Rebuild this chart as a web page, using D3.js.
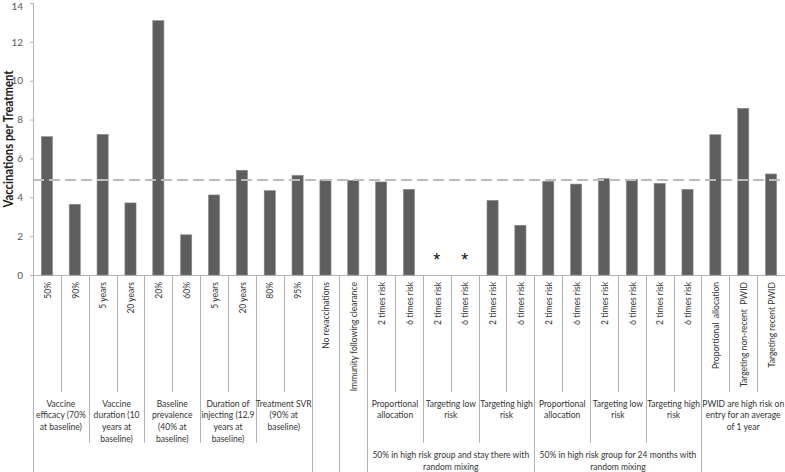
<!DOCTYPE html>
<html>
<head>
<meta charset="utf-8">
<script src="https://cdn.jsdelivr.net/npm/d3@7"></script>
<style>
  html, body { margin: 0; padding: 0; background: #fff; }
  svg { display: block; }
  text { font-family: Lato, "Open Sans", "Liberation Sans", Arial, sans-serif; }
</style>
</head>
<body>
<svg id="chart" width="785" height="472"></svg>
<script>
// ---------- data ----------
const categories = [
  "50%", "90%", "5 years", "20 years", "20%", "60%", "5 years", "20 years", "80%", "95%",
  "No revaccinations", "Immunity following clearance",
  "2 times risk", "6 times risk", "2 times risk", "6 times risk", "2 times risk", "6 times risk",
  "2 times risk", "6 times risk", "2 times risk", "6 times risk", "2 times risk", "6 times risk",
  "Proportional  allocation", "Targeting non-recent  PWID", "Targeting recent PWID"
];
const values = [
  7.12, 3.64, 7.24, 3.71, 13.09, 2.07, 4.12, 5.39, 4.34, 5.13,
  4.89, 4.87,
  4.79, 4.41, null, null, 3.84, 2.56,
  4.82, 4.68, 4.96, 4.91, 4.72, 4.41,
  7.22, 8.58, 5.20
];
// level-2 groups: index ranges and wrapped label lines
const groupStarts = [0, 2, 4, 6, 8, 10, 11, 12, 14, 16, 18, 20, 22, 24];
const groupEnds   = [1, 3, 5, 7, 9, 10, 11, 13, 15, 17, 19, 21, 23, 26];
const groupLabels = [
  ["Vaccine", "efficacy (70%", "at baseline)"],
  ["Vaccine", "duration (10", "years at", "baseline)"],
  ["Baseline", "prevalence", "(40% at", "baseline)"],
  ["Duration of", "injecting (12.9", "years at", "baseline)"],
  ["Treatment SVR", "(90% at", "baseline)"],
  [], [],
  ["Proportional", "allocation"],
  ["Targeting low", "risk"],
  ["Targeting high", "risk"],
  ["Proportional", "allocation"],
  ["Targeting low", "risk"],
  ["Targeting high", "risk"],
  ["PWID are high risk on", "entry for an average", "of 1 year"]
];
// level-3 groups
const superStarts = [0, 10, 11, 12, 18, 24];
const superEnds   = [9, 10, 11, 17, 23, 26];
const superLabels = [
  [], [], [],
  ["50% in high risk group and stay there with", "random mixing"],
  ["50% in high risk group for 24 months with", "random mixing"],
  []
];
const yTicks = [0, 2, 4, 6, 8, 10, 12, 14];
const baselineValue = 4.89;
const starValue = 0.9;
const yTitle = "Vaccinations per Treatment";

// ---------- layout ----------
const W = 785, H = 472;
const mLeft = 33, mRight = 785, mTop = 3, axisY = 275;
const lvl1Bottom = 392, lvl2Bottom = 443;
const fontSize = 9.8;

const svg = d3.select("#chart");

// horizontal squeeze so the font matches the narrow original face
const probe = svg.append("text").style("font-size", fontSize + "px")
  .text("50% in high risk group and stay there with");
const sq = 157 / probe.node().getComputedTextLength();
probe.remove();

const x = d3.scaleBand().domain(d3.range(categories.length)).range([mLeft, mRight]).padding(0);
const y = d3.scaleLinear().domain([0, 14]).range([axisY, mTop]);

const axisColor = "#b3b3b3";

// y axis
const yAxis = d3.axisLeft(y).tickValues(yTicks).tickSize(3).tickPadding(7).tickFormat(d3.format("d"));
const gy = svg.append("g").attr("transform", `translate(${mLeft},0)`).call(yAxis);
gy.select(".domain").remove();
gy.selectAll(".tick line").attr("stroke", axisColor);
gy.selectAll(".tick text").attr("fill", "#595959").style("font-size", "10px")
  .style("font-family", "Lato, 'Open Sans', Arial, sans-serif")
  .attr("dy", d => d === 14 ? "0.62em" : "0.32em");

// y-axis line (extends to bottom of category area)
svg.append("line").attr("x1", mLeft + 0.5).attr("x2", mLeft + 0.5).attr("y1", mTop).attr("y2", H)
  .attr("stroke", axisColor);

// category axis line
svg.append("line").attr("x1", mLeft).attr("x2", mRight).attr("y1", axisY + 0.5).attr("y2", axisY + 0.5)
  .attr("stroke", axisColor);

// y title
svg.append("text")
  .attr("transform", `translate(8,${(mTop + axisY) / 2}) rotate(-90)`)
  .attr("text-anchor", "middle").attr("dominant-baseline", "central")
  .attr("textLength", 137).attr("lengthAdjust", "spacingAndGlyphs")
  .style("font-size", "12.5px").style("font-weight", "bold").attr("fill", "#1a1a1a")
  .text(yTitle);

// bars
const barW = x.bandwidth() * 0.4;
svg.append("g").selectAll("rect")
  .data(values.map((v, i) => ({ v, i })).filter(d => d.v !== null))
  .join("rect")
  .attr("x", d => x(d.i) + (x.bandwidth() - barW) / 2)
  .attr("width", barW)
  .attr("y", d => y(d.v))
  .attr("height", d => y(0) - y(d.v))
  .attr("fill", "#5e5e5e")
  .attr("stroke", "#8a8a8a").attr("stroke-width", 0.6);

// asterisks for missing values
svg.append("g").selectAll("text")
  .data(values.map((v, i) => ({ v, i })).filter(d => d.v === null))
  .join("text")
  .attr("x", d => x(d.i) + x.bandwidth() / 2)
  .attr("y", y(starValue) + 8)
  .attr("text-anchor", "middle")
  .style("font-size", "18px").style("font-family", "'Liberation Sans', Arial, sans-serif")
  .attr("fill", "#111")
  .text("*");

// baseline dashed line
svg.append("line")
  .attr("x1", mLeft).attr("x2", mRight)
  .attr("y1", y(baselineValue)).attr("y2", y(baselineValue))
  .attr("stroke", "#bdbdbd").attr("stroke-width", 2).attr("stroke-dasharray", "11,5");

// dividers
function boundaryLevel(b) {
  if (b === 0 || superStarts.includes(b) || b === categories.length) return 3;
  if (groupStarts.includes(b)) return 2;
  return 1;
}
const boundaries = d3.range(categories.length + 1);
svg.append("g").selectAll("line")
  .data(boundaries)
  .join("line")
  .attr("x1", b => Math.round(b < categories.length ? x(b) : mRight) + 0.5)
  .attr("x2", b => Math.round(b < categories.length ? x(b) : mRight) + 0.5)
  .attr("y1", axisY)
  .attr("y2", b => { const l = boundaryLevel(b); return l === 3 ? H : (l === 2 ? lvl2Bottom : lvl1Bottom); })
  .attr("stroke", axisColor);

// level-1 labels (rotated)
svg.append("g").selectAll("text")
  .data(categories)
  .join("text")
  .attr("transform", (d, i) => `translate(${x(i) + x.bandwidth() / 2},${axisY + 7}) rotate(-90) scale(${sq},1)`)
  .attr("text-anchor", "end")
  .attr("dominant-baseline", "central")
  .style("font-size", fontSize + "px").attr("fill", "#333")
  .style("white-space", "pre")
  .text(d => d);

// level-2 labels
const lineH = 11.7;
groupLabels.forEach((lines, gi) => {
  const cx = (x(groupStarts[gi]) + x(groupEnds[gi]) + x.bandwidth()) / 2;
  const t = svg.append("text").attr("text-anchor", "middle")
    .attr("transform", `translate(${cx},0) scale(${sq},1)`)
    .style("font-size", fontSize + "px").attr("fill", "#333");
  lines.forEach((ln, k) => {
    t.append("tspan").attr("x", 0).attr("y", 403 + k * lineH).attr("dominant-baseline", "central").text(ln);
  });
});

// level-3 labels
superLabels.forEach((lines, gi) => {
  const cx = (x(superStarts[gi]) + x(superEnds[gi]) + x.bandwidth()) / 2;
  const t = svg.append("text").attr("text-anchor", "middle")
    .attr("transform", `translate(${cx},0) scale(${sq},1)`)
    .style("font-size", fontSize + "px").attr("fill", "#333");
  lines.forEach((ln, k) => {
    t.append("tspan").attr("x", 0).attr("y", 454 + k * 12).attr("dominant-baseline", "central").text(ln);
  });
});
</script>
</body>
</html>
